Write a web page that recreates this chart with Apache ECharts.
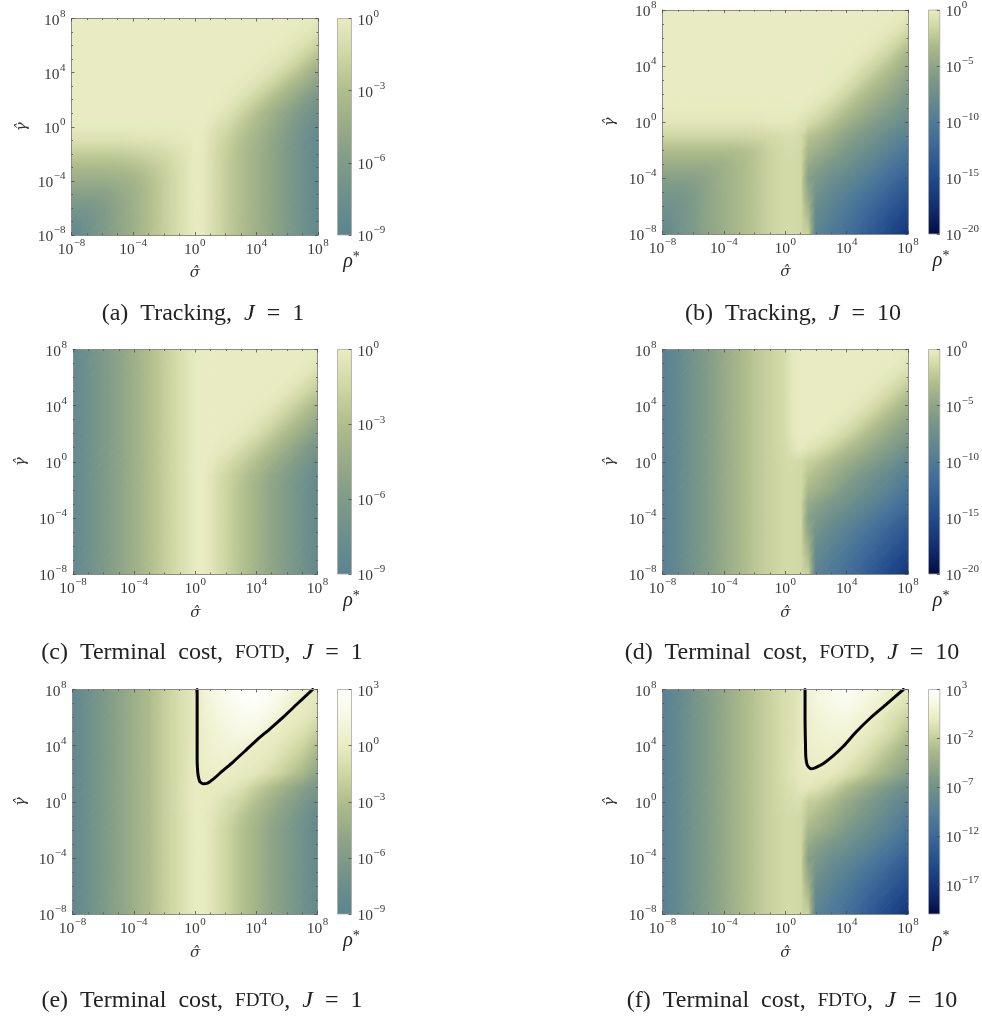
<!DOCTYPE html>
<html><head><meta charset="utf-8">
<style>html,body{margin:0;padding:0;background:#fff}#c{width:982px;height:1019px}</style>
<script src="https://cdn.jsdelivr.net/npm/echarts@6/dist/echarts.min.js"></script>
</head><body><div id="c"></div>
<script>
// grid of log10(rho*) samples
const gridX=[-8,-7,-6,-5,-4,-3,-2,-1,0,.5,1,1.5,2,3,4,5,6,7,8];
const gridY=[8,7,6,5,4,3,2,1,0,-1,-2,-3,-4,-5,-6,-7,-8];
const rhoA=[
[0,0,0,0,0,0,0,0,0,0,0,0,0,0,0,0,0,-.1,-.3],
[0,0,0,0,0,0,0,0,0,0,0,0,0,0,0,0,-.1,-.3,-.8],
[0,0,0,0,0,0,0,0,0,0,0,0,0,0,0,-.1,-.3,-.8,-1.8],
[0,0,0,0,0,0,0,0,0,0,0,0,0,0,-.1,-.3,-.8,-1.8,-3.1],
[0,0,0,0,0,0,0,0,0,0,0,0,0,-.1,-.3,-.8,-1.8,-3,-4.4],
[0,0,0,0,0,0,0,0,0,0,0,0,-.1,-.3,-.8,-1.8,-3,-4.3,-5.6],
[0,0,0,0,0,0,0,0,0,0,0,-.1,-.2,-.8,-1.8,-3,-4.2,-5.5,-6.7],
[0,0,0,0,0,0,0,0,0,0,-.1,-.3,-.6,-1.6,-2.8,-4,-5.2,-6.4,-7.5],
[-.1,-.1,-.1,-.1,-.1,-.1,-.1,-.1,0,-.1,-.4,-.9,-1.2,-2.3,-3.3,-4.5,-5.7,-6.9,-8],
[-.8,-.8,-.8,-.8,-.7,-.6,-.5,-.3,-.1,-.2,-.7,-1.2,-1.7,-2.8,-3.8,-4.9,-6,-7.2,-8.2],
[-2.1,-2.1,-2.1,-2.1,-1.9,-1.6,-1.2,-.7,-.1,-.2,-.8,-1.4,-1.9,-3,-4,-5,-6.1,-7.3,-8.4],
[-3.3,-3.3,-3.3,-3.2,-2.9,-2.4,-1.8,-.9,-.1,-.2,-.8,-1.4,-2,-3,-4,-5,-6.1,-7.3,-8.4],
[-4.4,-4.4,-4.4,-4.2,-3.7,-2.9,-2,-1,-.1,-.2,-.8,-1.4,-2,-3,-4,-5,-6.1,-7.3,-8.4],
[-5.5,-5.5,-5.4,-4.8,-4.1,-3,-2,-1,-.1,-.2,-.8,-1.4,-2,-3,-4,-5,-6.1,-7.3,-8.4],
[-6.6,-6.6,-6.1,-5.1,-4.1,-3,-2,-1,-.1,-.2,-.8,-1.4,-2,-3,-4,-5,-6.1,-7.3,-8.4],
[-7.7,-7.1,-6.2,-5.1,-4.2,-3,-2,-1,-.1,-.2,-.8,-1.4,-2,-3,-4,-5,-6,-7.3,-8.4],
[-8.5,-7.3,-6.3,-5.2,-4.2,-3,-2,-1,-.1,-.2,-.8,-1.4,-2,-3,-4,-5,-6,-7.3,-8.4]];
const rhoB=[
[0,0,0,0,0,0,0,0,0,0,0,0,0,0,0,0,0,-.1,-.2],
[0,0,0,0,0,0,0,0,0,0,0,0,0,0,0,0,-.1,-.2,-.8],
[0,0,0,0,0,0,0,0,0,0,0,0,0,0,0,-.1,-.2,-.8,-2],
[0,0,0,0,0,0,0,0,0,0,0,0,0,0,-.1,-.2,-.8,-1.9,-3.4],
[0,0,0,0,0,0,0,0,0,0,0,0,0,-.1,-.1,-.8,-1.8,-3,-4.4],
[0,0,0,0,0,0,0,0,0,0,0,0,0,-.1,-.6,-1.7,-2.9,-4,-5.3],
[0,0,0,0,0,0,0,0,0,0,0,0,-.1,-.5,-1.5,-2.8,-3.9,-4.9,-6.2],
[-.1,-.1,-.1,-.1,-.1,-.1,-.1,-.1,-.1,-.1,-.1,-.3,-.6,-1.5,-2.7,-3.8,-4.9,-5.9,-7.1],
[-.4,-.4,-.4,-.4,-.4,-.4,-.4,-.3,-.3,-.3,-.7,-1.1,-1.5,-2.6,-3.9,-5,-6,-7,-8],
[-1.5,-1.5,-1.5,-1.5,-1.5,-1.5,-1.4,-1.2,-1,-1,-1.2,-2.6,-3,-4,-5.2,-6.2,-7.2,-8.3,-9.3],
[-3,-3,-3,-3,-3,-2.9,-2.5,-1.7,-1.2,-1.2,-1.4,-3.5,-4,-5,-6.3,-7.3,-8.3,-9.4,-10.4],
[-4.3,-4.3,-4.3,-4.3,-4,-3.3,-2.6,-1.7,-1.3,-1.3,-1.5,-4.6,-5.2,-6.3,-7.3,-8.3,-9.4,-10.5,-11.6],
[-5.5,-5.5,-5.4,-4.9,-4.1,-3.3,-2.6,-1.7,-1.3,-1.3,-1.4,-5.5,-6.2,-7.4,-8.4,-9.4,-10.5,-11.7,-12.8],
[-6.5,-6.5,-6,-5,-4.2,-3.3,-2.6,-1.7,-1.3,-1.3,-1.4,-4.8,-7,-8.3,-9.3,-10.4,-11.6,-12.8,-14],
[-7.2,-7,-6.1,-5,-4.2,-3.3,-2.6,-1.7,-1.3,-1.3,-1.4,-3.8,-7.8,-9,-10.1,-11.3,-12.5,-13.8,-15],
[-7.9,-7.1,-6.1,-5,-4.2,-3.3,-2.6,-1.7,-1.3,-1.3,-1.4,-2.8,-8.3,-9.6,-10.7,-12,-13.3,-14.8,-16],
[-8.4,-7.2,-6.2,-5.1,-4.2,-3.3,-2.6,-1.7,-1.3,-1.3,-1.4,-1.8,-9,-10.1,-11.2,-12.6,-14.1,-15.6,-17]];
const rhoC=[
[-8.3,-7.3,-6.2,-5.2,-4.1,-3,-2,-1,-.1,0,0,0,0,0,0,0,0,0,-.1],
[-8.3,-7.3,-6.2,-5.2,-4.1,-3,-2,-1,-.1,0,0,0,0,0,0,0,0,-.1,-.4],
[-8.3,-7.3,-6.2,-5.2,-4.1,-3,-2,-1,-.1,0,0,0,0,0,0,0,-.1,-.4,-1.3],
[-8.3,-7.3,-6.2,-5.2,-4.1,-3,-2,-1,-.1,0,0,0,0,0,0,-.1,-.4,-1.2,-2.3],
[-8.3,-7.3,-6.2,-5.2,-4.1,-3,-2,-1,-.1,0,0,0,0,0,-.1,-.4,-1.2,-2.3,-3.5],
[-8.3,-7.3,-6.2,-5.2,-4.1,-3,-2,-1,-.1,0,0,0,0,-.1,-.4,-1.1,-2.2,-3.4,-4.6],
[-8.3,-7.3,-6.2,-5.2,-4.1,-3,-2,-1,-.1,0,0,0,-.1,-.3,-1,-2.1,-3.3,-4.5,-5.8],
[-8.3,-7.3,-6.2,-5.2,-4.1,-3,-2,-1,-.1,0,0,-.2,-.3,-1,-2,-3.1,-4.3,-5.6,-6.8],
[-8.3,-7.3,-6.2,-5.2,-4.1,-3,-2,-1,-.1,0,-.2,-.6,-.9,-1.9,-2.9,-4.1,-5.2,-6.4,-7.6],
[-8.3,-7.3,-6.2,-5.2,-4.1,-3,-2,-1,-.1,0,-.4,-1,-1.5,-2.5,-3.6,-4.8,-5.8,-6.9,-8.1],
[-8.3,-7.3,-6.2,-5.2,-4.1,-3,-2,-1,-.1,0,-.4,-1.1,-1.6,-2.7,-3.8,-5,-6,-7.1,-8.3],
[-8.3,-7.3,-6.2,-5.2,-4.1,-3,-2,-1,-.1,0,-.4,-1.1,-1.6,-2.7,-3.8,-5,-6,-7.1,-8.3],
[-8.3,-7.3,-6.2,-5.2,-4.1,-3,-2,-1,-.1,0,-.4,-1.1,-1.6,-2.7,-3.8,-5,-6,-7.1,-8.3],
[-8.3,-7.3,-6.2,-5.2,-4.1,-3,-2,-1,-.1,0,-.4,-1.1,-1.6,-2.7,-3.8,-5,-6,-7.1,-8.3],
[-8.3,-7.3,-6.2,-5.2,-4.1,-3,-2,-1,-.1,0,-.4,-1.1,-1.6,-2.7,-3.8,-5,-6,-7.1,-8.3],
[-8.3,-7.3,-6.2,-5.2,-4.1,-3,-2,-1,-.1,0,-.4,-1.1,-1.6,-2.7,-3.8,-5,-6,-7.1,-8.3],
[-8.3,-7.3,-6.2,-5.2,-4.1,-3,-2,-1,-.1,0,-.4,-1.1,-1.6,-2.7,-3.8,-5,-6,-7.1,-8.3]];
const rhoD=[
[-9.4,-8.2,-7,-5.8,-4.6,-3.5,-2.5,-1.8,-1.1,-.2,0,0,0,0,0,0,0,0,-.2],
[-9.4,-8.2,-7,-5.8,-4.6,-3.5,-2.5,-1.8,-1.1,-.2,0,0,0,0,0,0,0,-.1,-.5],
[-9.4,-8.2,-7,-5.8,-4.6,-3.5,-2.5,-1.8,-1.1,-.2,0,0,0,0,0,0,-.1,-.5,-1.4],
[-9.4,-8.2,-7,-5.8,-4.6,-3.5,-2.5,-1.8,-1.1,-.2,0,0,0,0,0,-.1,-.5,-1.4,-2.6],
[-9.4,-8.2,-7,-5.8,-4.6,-3.5,-2.5,-1.8,-1.1,-.2,0,0,0,0,-.1,-.5,-1.4,-2.6,-3.8],
[-9.4,-8.2,-7,-5.8,-4.6,-3.5,-2.5,-1.8,-1.1,-.2,0,0,0,-.1,-.5,-1.4,-2.6,-3.8,-5],
[-9.4,-8.2,-7,-5.8,-4.6,-3.5,-2.5,-1.8,-1.1,-.3,0,0,-.1,-.5,-1.4,-2.6,-3.8,-5,-6],
[-9.4,-8.2,-7,-5.8,-4.6,-3.5,-2.5,-1.8,-1.2,-.6,-.2,-.5,-.8,-1.7,-2.8,-3.8,-5,-6,-7.3],
[-9.4,-8.2,-7,-5.8,-4.6,-3.5,-2.5,-1.8,-1.3,-1.2,-1.3,-1.9,-2.2,-3.2,-4.2,-5.2,-6.2,-7.3,-8.6],
[-9.4,-8.2,-7,-5.8,-4.6,-3.5,-2.5,-1.8,-1.3,-1.3,-1.4,-2.6,-3.1,-4.2,-5.3,-6.4,-7.5,-8.6,-9.8],
[-9.4,-8.2,-7,-5.8,-4.6,-3.5,-2.5,-1.8,-1.3,-1.3,-1.4,-3.5,-4,-5,-6.3,-7.3,-8.3,-9.4,-10.6],
[-9.4,-8.2,-7,-5.8,-4.6,-3.5,-2.5,-1.8,-1.3,-1.3,-1.5,-4.6,-5.2,-6.3,-7.3,-8.3,-9.4,-10.5,-11.7],
[-9.4,-8.2,-7,-5.8,-4.6,-3.5,-2.5,-1.8,-1.3,-1.3,-1.4,-5.5,-6.2,-7.4,-8.4,-9.4,-10.5,-11.7,-12.8],
[-9.4,-8.2,-7,-5.8,-4.6,-3.5,-2.5,-1.8,-1.3,-1.3,-1.4,-4.8,-7,-8.3,-9.3,-10.4,-11.6,-12.8,-14],
[-9.4,-8.2,-7,-5.8,-4.6,-3.5,-2.5,-1.8,-1.3,-1.3,-1.4,-3.8,-7.8,-9,-10.1,-11.3,-12.5,-13.8,-15],
[-9.4,-8.2,-7,-5.8,-4.6,-3.5,-2.5,-1.8,-1.3,-1.3,-1.4,-2.8,-8.3,-9.6,-10.7,-12,-13.3,-14.8,-16],
[-9.4,-8.2,-7,-5.8,-4.6,-3.5,-2.5,-1.8,-1.3,-1.3,-1.4,-1.8,-9,-10.1,-11.2,-12.6,-14.1,-15.6,-17]];
const rhoE=[
[-8.5,-7.4,-6.3,-5.2,-4.2,-3.1,-2,-1,-.3,.8,1.3,1.8,2.2,2.9,3,2.5,1.6,.5,-.2],
[-8.5,-7.4,-6.3,-5.2,-4.2,-3.1,-2,-1,-.3,.6,1.1,1.5,1.9,2.5,2.7,2,1,0,-.4],
[-8.5,-7.4,-6.3,-5.2,-4.2,-3.1,-2,-1,-.3,.5,.9,1.2,1.6,2,2.1,1.3,.1,-.2,-1],
[-8.5,-7.4,-6.3,-5.2,-4.2,-3.1,-2,-1,-.3,.4,.7,1,1.2,1.6,1.3,.2,-.2,-.8,-2],
[-8.5,-7.4,-6.3,-5.2,-4.2,-3.1,-2,-1,-.2,.3,.6,.8,1,.9,.1,-.1,-.7,-1.6,-3],
[-8.5,-7.4,-6.3,-5.2,-4.2,-3.1,-2,-1,-.1,.2,.5,.6,.6,.1,-.1,-.5,-1.4,-2.4,-4],
[-8.5,-7.4,-6.3,-5.2,-4.2,-3.1,-2,-1,-.1,.1,.2,.2,.1,-.1,-.4,-1.2,-2.2,-3.4,-5.2],
[-8.5,-7.4,-6.3,-5.2,-4.2,-3.1,-2,-.9,0,-.1,-.1,-.1,-.2,-.8,-2,-3.1,-4.3,-5.4,-6.6],
[-8.5,-7.4,-6.3,-5.2,-4.2,-3.1,-2,-.9,0,-.1,-.2,-.5,-.9,-1.7,-2.9,-4,-5.2,-6.3,-7.6],
[-8.5,-7.4,-6.3,-5.2,-4.2,-3.1,-2,-1,-.1,-.1,-.4,-.8,-1.2,-2.4,-3.5,-4.7,-5.7,-6.9,-8.1],
[-8.5,-7.4,-6.3,-5.2,-4.2,-3.1,-2,-1,-.1,-.1,-.4,-1,-1.5,-2.7,-3.8,-5,-6,-7.1,-8.3],
[-8.5,-7.4,-6.3,-5.2,-4.2,-3.1,-2,-1,-.1,-.1,-.4,-1,-1.5,-2.7,-3.8,-5,-6,-7.1,-8.3],
[-8.5,-7.4,-6.3,-5.2,-4.2,-3.1,-2,-1,-.1,-.1,-.4,-1,-1.5,-2.7,-3.8,-5,-6,-7.1,-8.3],
[-8.5,-7.4,-6.3,-5.2,-4.2,-3.1,-2,-1,-.1,-.1,-.4,-1,-1.5,-2.7,-3.8,-5,-6,-7.1,-8.3],
[-8.5,-7.4,-6.3,-5.2,-4.2,-3.1,-2,-1,-.1,-.1,-.4,-1,-1.5,-2.7,-3.8,-5,-6,-7.1,-8.3],
[-8.5,-7.4,-6.3,-5.2,-4.2,-3.1,-2,-1,-.1,-.1,-.4,-1,-1.5,-2.7,-3.8,-5,-6,-7.1,-8.3],
[-8.5,-7.4,-6.3,-5.2,-4.2,-3.1,-2,-1,-.1,-.1,-.4,-1,-1.5,-2.7,-3.8,-5,-6,-7.1,-8.3]];
const rhoF=[
[-9.4,-8.2,-7,-5.8,-4.7,-3.6,-2.6,-1.8,-1,-.7,-.3,.8,1.3,2.1,2.5,1.9,1.2,.4,-.3],
[-9.4,-8.2,-7,-5.8,-4.7,-3.6,-2.6,-1.8,-1,-.7,-.2,.6,1.1,1.7,2,1.5,.7,-.1,-.8],
[-9.4,-8.2,-7,-5.8,-4.7,-3.6,-2.6,-1.8,-1,-.7,-.2,.4,.9,1.3,1.4,.9,-.1,-.8,-1.9],
[-9.4,-8.2,-7,-5.8,-4.7,-3.6,-2.6,-1.8,-1,-.7,-.2,.3,.7,1,1,.1,-.4,-1.4,-2.7],
[-9.4,-8.2,-7,-5.8,-4.7,-3.6,-2.6,-1.8,-1,-.7,-.2,.2,.5,.6,.1,-.3,-1.2,-2.4,-3.7],
[-9.4,-8.2,-7,-5.8,-4.7,-3.6,-2.6,-1.8,-1,-.6,-.2,.1,.3,.2,-.2,-1,-2.2,-3.4,-4.7],
[-9.4,-8.2,-7,-5.8,-4.7,-3.6,-2.6,-1.8,-1,-.5,-.2,-.1,-.1,-.2,-.9,-2,-3.2,-4.4,-5.7],
[-9.4,-8.2,-7,-5.8,-4.7,-3.6,-2.6,-1.8,-1.1,-.8,-.4,-.4,-.6,-1.6,-3,-4.2,-5.4,-6.6,-7.8],
[-9.4,-8.2,-7,-5.8,-4.7,-3.6,-2.6,-1.8,-1.2,-1.1,-1,-2,-2.2,-3.2,-4.5,-5.6,-6.7,-7.8,-9],
[-9.4,-8.2,-7,-5.8,-4.7,-3.6,-2.6,-1.8,-1.3,-1.3,-1.4,-2.6,-3.1,-4.2,-5.3,-6.4,-7.5,-8.6,-9.9],
[-9.4,-8.2,-7,-5.8,-4.7,-3.6,-2.6,-1.8,-1.3,-1.3,-1.4,-3.5,-4,-5,-6.3,-7.3,-8.3,-9.4,-10.8],
[-9.4,-8.2,-7,-5.8,-4.7,-3.6,-2.6,-1.8,-1.3,-1.3,-1.5,-4.6,-5.2,-6.3,-7.3,-8.3,-9.4,-10.5,-11.8],
[-9.4,-8.2,-7,-5.8,-4.7,-3.6,-2.6,-1.8,-1.3,-1.3,-1.4,-5.5,-6.2,-7.4,-8.4,-9.4,-10.5,-11.7,-12.9],
[-9.4,-8.2,-7,-5.8,-4.7,-3.6,-2.6,-1.8,-1.3,-1.3,-1.4,-4.8,-7,-8.3,-9.3,-10.4,-11.6,-12.8,-14],
[-9.4,-8.2,-7,-5.8,-4.7,-3.6,-2.6,-1.8,-1.3,-1.3,-1.4,-3.8,-7.8,-9,-10.1,-11.3,-12.5,-13.8,-15],
[-9.4,-8.2,-7,-5.8,-4.7,-3.6,-2.6,-1.8,-1.3,-1.3,-1.4,-2.8,-8.3,-9.6,-10.7,-12,-13.3,-14.8,-16],
[-9.4,-8.2,-7,-5.8,-4.7,-3.6,-2.6,-1.8,-1.3,-1.3,-1.4,-1.8,-9,-10.1,-11.2,-12.6,-14.1,-15.6,-17]];
// rho* = 1 contours
const contourE=[[.14,8],[.14,7],[.14,6],[.14,5],[.14,4],[.14,3],[.16,2.4],[.2,1.9],[.32,1.42],[.54,1.28],[.86,1.35],[1.19,1.61],[1.8,2.2],[2.5,2.85],[3.3,3.65],[4.03,4.39],[4.9,5.2],[5.78,6.05],[6.7,7],[7.68,8]];
const contourF=[[1.29,8],[1.29,7],[1.29,6],[1.3,5],[1.32,4],[1.34,3.2],[1.44,2.6],[1.66,2.35],[1.94,2.42],[2.49,2.73],[3.1,3.25],[3.79,3.95],[4.6,4.95],[5.53,5.95],[6.6,6.95],[7.7,8]];
// axis ticks (decade exponents)
const axisRange=[-8,8];
const barTicksA=[0,-3,-6,-9];
const barTicksB=[0,-5,-10,-15,-20];
const barTicksE=[3,0,-3,-6,-9];
const barTicksF=[3,-2,-7,-12,-17];
const captions=[
 '(a)  Tracking,  {i|J}  =  1','(b)  Tracking,  {i|J}  =  10',
 '(c)  Terminal  cost,  {sc|FOTD},  {i|J}  =  1','(d)  Terminal  cost,  {sc|FOTD},  {i|J}  =  10',
 '(e)  Terminal  cost,  {sc|FDTO},  {i|J}  =  1','(f)  Terminal  cost,  {sc|FDTO},  {i|J}  =  10'];
// colour map: log10 value -> colour
const cmapV=[-20,-18,-15,-12,-10,-9,-8,-6,-5,-3,-1.5,0,1.5,3];
const cmapC=['#030b45','#0f2a6c','#214b8b','#3d6899','#4f7b97','#5c8392','#668b8e','#7f9b88','#8fa587','#b0bd8c','#cfd7a4','#e9ecc2','#f6f8e2','#ffffff'];

const FONT='"Liberation Serif"';
const hex=c=>[1,3,5].map(i=>parseInt(c.substr(i,2),16));
function colorAt(v){
  if(v<=cmapV[0])return cmapC[0];
  if(v>=cmapV[cmapV.length-1])return cmapC[cmapC.length-1];
  for(let i=1;i<cmapV.length;i++){ if(v<=cmapV[i]){
    const t=(v-cmapV[i-1])/(cmapV[i]-cmapV[i-1]),a=hex(cmapC[i-1]),b=hex(cmapC[i]);
    return 'rgb('+a.map((q,k)=>Math.round(q+(b[k]-q)*t)).join(',')+')';
  }}
}
function stopsBetween(lo,hi){
  const s=[{offset:0,color:colorAt(lo)}];
  cmapV.forEach(v=>{if(v>lo&&v<hi)s.push({offset:(v-lo)/(hi-lo),color:colorAt(v)})});
  s.push({offset:1,color:colorAt(hi)});
  return s;
}
// a triangle whose fill follows the linear function through its 3 corner values
function tri(P,V){
  const [x0,y0]=P[0],[x1,y1]=P[1],[x2,y2]=P[2];
  const det=(x1-x0)*(y2-y0)-(x2-x0)*(y1-y0);
  const a=((V[1]-V[0])*(y2-y0)-(V[2]-V[0])*(y1-y0))/det;
  const b=((x1-x0)*(V[2]-V[0])-(x2-x0)*(V[1]-V[0]))/det;
  const n=a*a+b*b,lo=Math.min(...V),hi=Math.max(...V);
  let fill=colorAt(V[0]);
  if(n>1e-9&&hi-lo>1e-6){
    const p=P[V.indexOf(lo)],d=hi-lo;
    fill=new echarts.graphic.LinearGradient(p[0],p[1],p[0]+a*d/n,p[1]+b*d/n,stopsBetween(lo,hi),true);
  }
  // grown by a fraction of a pixel so that neighbours overlap instead of leaving a seam
  const cx=(x0+x1+x2)/3,cy=(y0+y1+y2)/3;
  const pts=P.map(q=>{const dx=q[0]-cx,dy=q[1]-cy,l=Math.hypot(dx,dy);return [q[0]+dx/l*.9,q[1]+dy/l*.9];});
  return {type:'polygon',silent:true,shape:{points:pts},style:{fill:fill}};
}
function renderCell(params,api){
  const v=k=>api.value(k);
  const p00=api.coord([v(0),v(1)]),p10=api.coord([v(2),v(1)]),p01=api.coord([v(0),v(3)]),p11=api.coord([v(2),v(3)]);
  return {type:'group',children:[tri([p00,p10,p11],[v(4),v(5),v(7)]),tri([p00,p01,p11],[v(4),v(6),v(7)])]};
}
function renderBar(params,api){
  const lo=api.value(1),hi=api.value(3);
  const a=api.coord([0,lo]),b=api.coord([1,hi]);
  return {type:'rect',silent:true,shape:{x:a[0],y:b[1],width:b[0]-a[0],height:a[1]-b[1]},
    style:{fill:new echarts.graphic.LinearGradient(0,a[1],0,b[1],stopsBetween(lo,hi),true),stroke:'#a9a9a0',lineWidth:.8}};
}
const cells=rho=>{const o=[];
  for(let j=0;j<gridY.length-1;j++)for(let i=0;i<gridX.length-1;i++)
    o.push([gridX[i],gridY[j+1],gridX[i+1],gridY[j],rho[j+1][i],rho[j+1][i+1],rho[j][i],rho[j][i+1]]);
  return o;};

const expLabel=v=>{const e=Math.round(v);return '{b|10}{s|'+(e<0?'\u2212'+(-e):e)+'}';};
const rich={b:{fontFamily:FONT,fontSize:15.5,color:'#3a3a3a',lineHeight:20,verticalAlign:'bottom'},
            s:{fontFamily:FONT,fontSize:11,color:'#3a3a3a',lineHeight:20,verticalAlign:'top',padding:[0,0,0,.5]}};
const labelStyle=m=>({show:true,margin:m,formatter:expLabel,rich:rich,hideOverlap:false,showMinLabel:true,showMaxLabel:true});

const panels=[
 {rho:rhoA,g:[71.5,18.5,318,235],b:[337.5,351.5],t:barTicksA,r:[-9,0],gg:42,sg:31,cap:[198,309]},
 {rho:rhoB,g:[662.5,9.5,908,234],b:[928.5,942.5],t:barTicksB,r:[-20,0],gg:45,sg:31,cap:[788,309]},
 {rho:rhoC,g:[73,349.5,317.5,574],b:[337.5,351.5],t:barTicksA,r:[-9,0],gg:44,sg:32,cap:[197,648]},
 {rho:rhoD,g:[662.5,349.5,908,574],b:[928.5,942.5],t:barTicksB,r:[-20,0],gg:45,sg:32,cap:[787,648]},
 {rho:rhoE,g:[72.5,689.5,317.5,914],b:[337.5,351.5],t:barTicksE,r:[-9,3],gg:44,sg:32,cap:[197,996],line:contourE},
 {rho:rhoF,g:[662.5,689.5,908,914],b:[928.5,942.5],t:barTicksF,r:[-20,3],gg:45,sg:32,cap:[787,996],line:contourF}];

const grid=[],xAxis=[],yAxis=[],series=[],title=[];
const lineC='#8c8c86',tickC='#4a4a4a';
const axisBase=()=>({type:'value',min:axisRange[0],max:axisRange[1],interval:4,z:10,splitLine:{show:false},
  axisLine:{show:true,onZero:false,lineStyle:{color:lineC,width:1}},
  axisTick:{show:true,inside:true,length:3,lineStyle:{color:tickC,width:.8}},
  minorTick:{show:true,splitNumber:4,length:1.5,lineStyle:{color:tickC,width:.8}},minorSplitLine:{show:false}});
const nameStyle={fontFamily:'"DejaVu Serif"',fontStyle:'italic',fontSize:15,color:'#333'};
panels.forEach((p,k)=>{
  const gi=grid.length;
  grid.push({left:p.g[0],top:p.g[1],width:p.g[2]-p.g[0],height:p.g[3]-p.g[1]});
  grid.push({left:p.b[0],top:p.g[1],width:p.b[1]-p.b[0],height:p.g[3]-p.g[1]});
  const xi=xAxis.length,yi=yAxis.length;
  xAxis.push(Object.assign(axisBase(),{gridIndex:gi,position:'bottom',axisLabel:labelStyle(3),name:'\u03C3\u0302',nameLocation:'middle',nameGap:p.sg,nameTextStyle:nameStyle}));
  xAxis.push(Object.assign(axisBase(),{gridIndex:gi,position:'top',axisLabel:{show:false}}));
  yAxis.push(Object.assign(axisBase(),{gridIndex:gi,position:'left',axisLabel:labelStyle(6),name:'\u03B3\u0302',nameLocation:'middle',nameRotate:90,nameGap:p.gg,nameTextStyle:nameStyle}));
  yAxis.push(Object.assign(axisBase(),{gridIndex:gi,position:'right',axisLabel:{show:false}}));
  // colour bar
  xAxis.push({type:'value',gridIndex:gi+1,min:0,max:1,position:'bottom',axisLine:{show:false},axisTick:{show:false},axisLabel:{show:false},splitLine:{show:false},
    name:'{r|\u03C1}{t|*}',nameLocation:'middle',nameGap:15,nameTextStyle:{padding:[0,0,0,14],rich:{
      r:{fontFamily:FONT,fontStyle:'italic',fontSize:20,color:'#222',lineHeight:22,verticalAlign:'bottom'},
      t:{fontFamily:FONT,fontSize:14,color:'#222',lineHeight:22,verticalAlign:'top'}}}});
  yAxis.push({type:'value',gridIndex:gi+1,min:p.r[0],max:p.r[1],position:'right',z:10,splitLine:{show:false},
    axisLine:{show:false,onZero:false},
    axisTick:{show:true,inside:true,length:3,customValues:p.t,lineStyle:{color:tickC,width:.8}},
    axisLabel:Object.assign(labelStyle(6),{customValues:p.t})});
  series.push({type:'custom',coordinateSystem:'cartesian2d',xAxisIndex:xi,yAxisIndex:yi,animation:false,silent:true,z:2,clip:true,progressive:0,
    renderItem:renderCell,encode:{x:[0,2],y:[1,3]},data:cells(p.rho)});
  series.push({type:'custom',coordinateSystem:'cartesian2d',xAxisIndex:xi+2,yAxisIndex:yi+2,animation:false,silent:true,z:2,
    renderItem:renderBar,encode:{x:[0,2],y:[1,3]},data:[[0,p.r[0],1,p.r[1]]]});
  if(p.line)series.push({type:'line',xAxisIndex:xi,yAxisIndex:yi,data:p.line,smooth:.2,symbol:'none',animation:false,silent:true,z:5,
    lineStyle:{color:'#000',width:3,cap:'round',join:'round'}});
  title.push({left:p.cap[0],top:p.cap[1],textAlign:'center',textVerticalAlign:'middle',text:captions[k],
    textStyle:{fontFamily:FONT,fontSize:24,fontWeight:'normal',color:'#222',
      rich:{i:{fontFamily:FONT,fontStyle:'italic',fontSize:24,color:'#222'},sc:{fontFamily:FONT,fontSize:19,color:'#222'}}}});
});
const chart=echarts.init(document.getElementById('c'),null,{renderer:'canvas',width:982,height:1019});
chart.setOption({animation:false,backgroundColor:'#fff',grid,xAxis,yAxis,series,title});
</script></body></html>
